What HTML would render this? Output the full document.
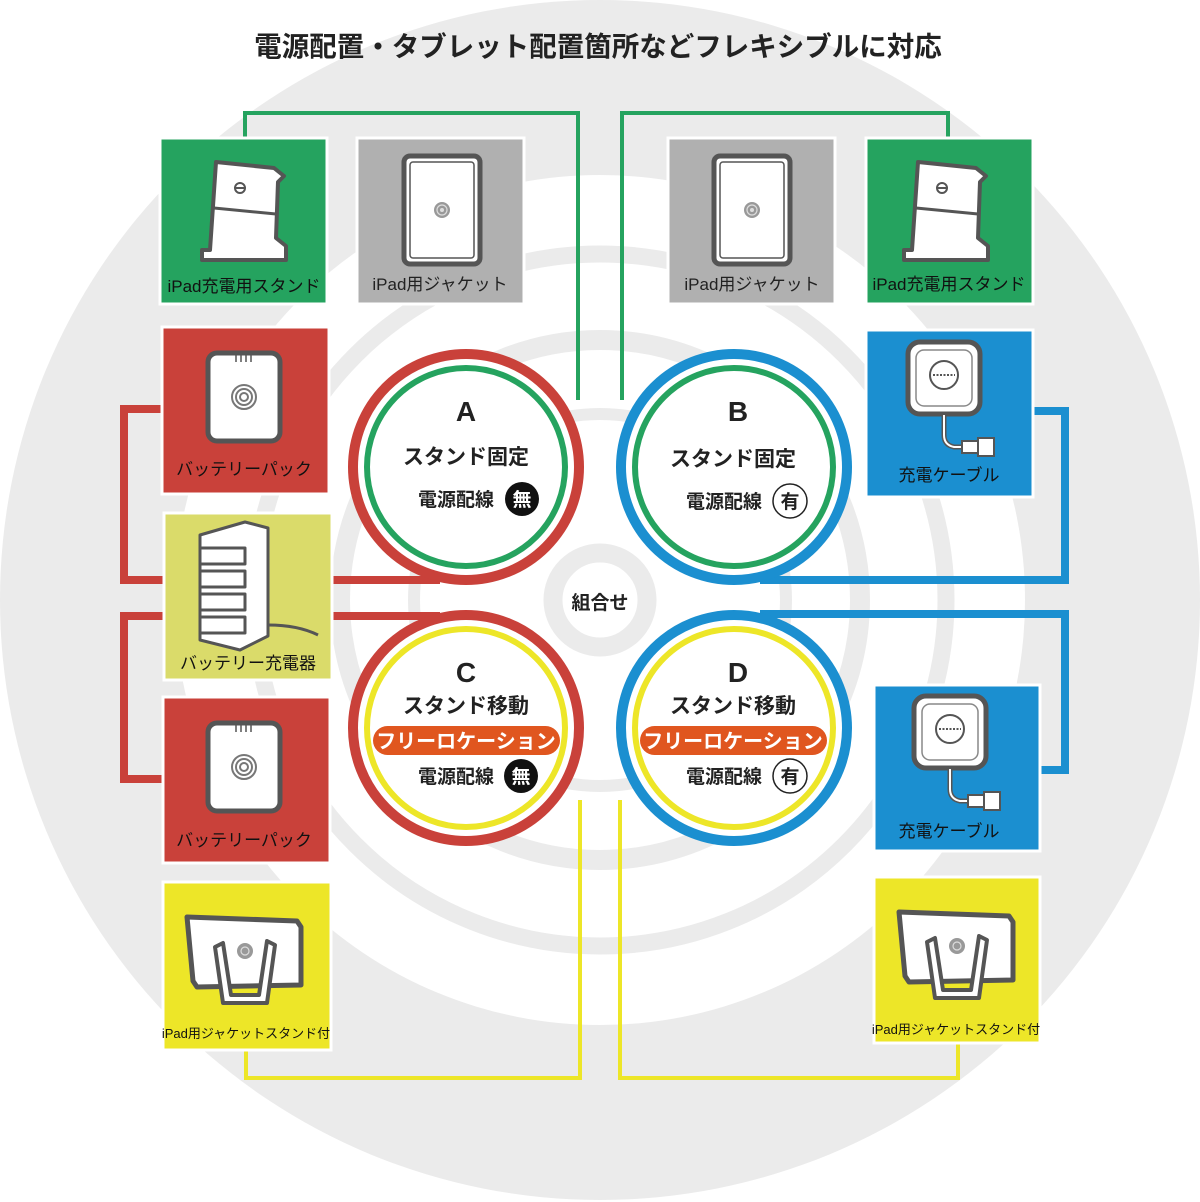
<!DOCTYPE html>
<html><head><meta charset="utf-8"><style>
html,body{margin:0;padding:0;background:#fff}
svg{display:block}
text{font-family:"Liberation Sans","Noto Sans CJK JP",sans-serif}
</style></head><body>
<svg width="1200" height="1202" viewBox="0 0 1200 1202" xmlns="http://www.w3.org/2000/svg">
<defs>
<clipPath id="cp"><rect width="1200" height="1202"/></clipPath>
<g id="stand">
 <path d="M-28,-48 L30,-42 L40,-34 L34,-28 L32,28 L42,36 L42,50 L-42,50 L-42,40 L-34,40 Z" fill="#fff" stroke="#555" stroke-width="4" stroke-linejoin="round"/>
 <path d="M-30,-2 L32,4" stroke="#555" stroke-width="3"/>
 <circle cx="-4" cy="-22" r="5" fill="#fff" stroke="#555" stroke-width="2"/>
 <path d="M-8,-22 h8" stroke="#555" stroke-width="2"/>
</g>
<g id="jacket">
 <rect x="-38" y="-54" width="76" height="108" rx="6" fill="#fff" stroke="#555" stroke-width="5"/>
 <rect x="-32" y="-48" width="64" height="96" rx="3" fill="none" stroke="#555" stroke-width="1.5"/>
 <circle cx="0" cy="0" r="8" fill="#999"/><circle cx="0" cy="0" r="5" fill="none" stroke="#ddd" stroke-width="1.2"/><circle cx="0" cy="0" r="2" fill="#ddd"/>
</g>
<g id="batt">
 <rect x="-36" y="-44" width="72" height="88" rx="9" fill="#fff" stroke="#555" stroke-width="5"/>
 <path d="M-8,-43 v8 M-3,-43 v8 M2,-43 v8 M7,-43 v8" stroke="#555" stroke-width="1.5"/>
 <circle cx="0" cy="0" r="12" fill="#fff" stroke="#777" stroke-width="2"/><circle cx="0" cy="0" r="8" fill="none" stroke="#777" stroke-width="2"/><circle cx="0" cy="0" r="4" fill="none" stroke="#777" stroke-width="2"/>
</g>
<g id="cable">
 <rect x="-36" y="-36" width="72" height="72" rx="12" fill="#fff" stroke="#555" stroke-width="5"/>
 <rect x="-28" y="-28" width="56" height="56" rx="8" fill="none" stroke="#888" stroke-width="1.5"/>
 <circle cx="0" cy="-3" r="14" fill="#fff" stroke="#555" stroke-width="2"/>
 <path d="M-11,-3 h22" stroke="#555" stroke-width="2" stroke-dasharray="2 1.5"/>
 <path d="M0,37 v20 q0,10 10,12 h8" fill="none" stroke="#555" stroke-width="5"/>
 <path d="M0,37 v20 q0,10 10,12 h8" fill="none" stroke="#fff" stroke-width="2"/>
 <rect x="18" y="63" width="16" height="12" fill="#fff" stroke="#555" stroke-width="2"/>
 <rect x="34" y="60" width="16" height="18" fill="#fff" stroke="#555" stroke-width="2"/>
</g>
<g id="tstand">
 <path d="M-58,-38 L52,-34 L56,-28 L56,30 L-48,32 L-52,26 Z" fill="#fff" stroke="#555" stroke-width="5" stroke-linejoin="round"/>
 <path d="M-30,-8 L-22,-12 L-14,40 L14,40 L22,-14 L30,-10 L22,48 L-22,48 Z" fill="#fff" stroke="#555" stroke-width="4" stroke-linejoin="round"/>
 <circle cx="0" cy="-4" r="8" fill="#999"/><circle cx="0" cy="-4" r="4" fill="none" stroke="#ddd" stroke-width="1.2"/>
</g>
</defs>
<g clip-path="url(#cp)">
<circle cx="600" cy="600" r="600" fill="#ebebeb"/>
<circle cx="600" cy="600" r="425" fill="#fff"/>
<circle cx="600" cy="600" r="346" fill="none" stroke="#ebebeb" stroke-width="17"/>
<circle cx="600" cy="600" r="260" fill="none" stroke="#ebebeb" stroke-width="20"/>
<circle cx="600" cy="600" r="186" fill="none" stroke="#ebebeb" stroke-width="12"/>
<circle cx="600" cy="600" r="47" fill="none" stroke="#ebebeb" stroke-width="19"/>
</g>
<text x="598" y="56" text-anchor="middle" font-size="27.5" font-weight="bold" fill="#222">電源配置・タブレット配置箇所などフレキシブルに対応</text>

<g fill="none" stroke-linejoin="miter">
 <path d="M245,140 V113 H578 V400" stroke="#25a35f" stroke-width="4"/>
 <path d="M622,400 V113 H948 V140" stroke="#25a35f" stroke-width="4"/>
 <path d="M165,409 H124 V580 H170 M330,580 H440" stroke="#c9413a" stroke-width="8"/>
 <path d="M170,616 H124 V779 H165 M330,616 H440" stroke="#c9413a" stroke-width="8"/>
 <path d="M1030,411 H1065 V580 H760" stroke="#1b8fd0" stroke-width="8"/>
 <path d="M760,614 H1065 V770 H1038" stroke="#1b8fd0" stroke-width="8"/>
 <path d="M580,800 V1078 H246 V1048" stroke="#ede628" stroke-width="4"/>
 <path d="M620,800 V1078 H958 V1042" stroke="#ede628" stroke-width="4"/>
</g>

<g stroke="#fff" stroke-width="3">
 <rect x="160" y="138" width="167" height="166" fill="#25a35f"/>
 <rect x="357" y="138" width="167" height="166" fill="#b0b0b0"/>
 <rect x="162" y="327" width="167" height="167" fill="#c9413a"/>
 <rect x="164" y="513" width="168" height="167" fill="#dadb6a"/>
 <rect x="163" y="697" width="167" height="166" fill="#c9413a"/>
 <rect x="163" y="882" width="168" height="168" fill="#ede628"/>
 <rect x="668" y="138" width="167" height="166" fill="#b0b0b0"/>
 <rect x="866" y="138" width="167" height="166" fill="#25a35f"/>
 <rect x="866" y="330" width="167" height="167" fill="#1b8fd0"/>
 <rect x="874" y="685" width="166" height="166" fill="#1b8fd0"/>
 <rect x="874" y="877" width="166" height="166" fill="#ede628"/>
</g>
<use href="#stand" x="244" y="210"/>
<use href="#jacket" x="442" y="210"/>
<use href="#jacket" x="752" y="210"/>
<use href="#stand" x="946" y="210"/>
<use href="#batt" x="244" y="397"/>
<use href="#batt" x="244" y="767"/>
<use href="#cable" x="944" y="378"/>
<use href="#cable" x="950" y="732"/>
<use href="#tstand" x="245" y="955"/>
<use href="#tstand" x="957" y="950"/>
<g stroke="#555" stroke-width="3" fill="#fff" stroke-linejoin="round">
 <path d="M200,535 L245,522 L268,528 L268,636 L240,650 L200,640 Z"/>
 <path d="M200,548 h45 v16 h-45 Z M200,571 h45 v16 h-45 Z M200,594 h45 v16 h-45 Z M200,617 h45 v16 h-45 Z"/>
 <path d="M268,625 q30,0 50,10" fill="none"/>
</g>
<g font-size="17" text-anchor="middle">
 <text x="244" y="292" fill="#111">iPad充電用スタンド</text>
 <text x="440" y="290" fill="#222">iPad用ジャケット</text>
 <text x="752" y="290" fill="#222">iPad用ジャケット</text>
 <text x="949" y="290" fill="#111">iPad充電用スタンド</text>
 <text x="244" y="475" fill="#111">バッテリーパック</text>
 <text x="248" y="669" fill="#111">バッテリー充電器</text>
 <text x="244" y="846" fill="#111">バッテリーパック</text>
 <text x="949" y="481" fill="#111">充電ケーブル</text>
 <text x="949" y="837" fill="#111">充電ケーブル</text>
 <text x="246" y="1038" fill="#111" font-size="13">iPad用ジャケットスタンド付</text>
 <text x="956" y="1034" fill="#111" font-size="13">iPad用ジャケットスタンド付</text>
</g>

<g fill="#fff">
 <circle cx="466" cy="467" r="113" stroke="#c9413a" stroke-width="10"/>
 <circle cx="466" cy="467" r="99" stroke="#25a35f" stroke-width="6"/>
 <circle cx="734" cy="467" r="113" stroke="#1b8fd0" stroke-width="10"/>
 <circle cx="734" cy="467" r="99" stroke="#25a35f" stroke-width="6"/>
 <circle cx="466" cy="728" r="113" stroke="#c9413a" stroke-width="10"/>
 <circle cx="466" cy="728" r="99" stroke="#ede628" stroke-width="6"/>
 <circle cx="734" cy="728" r="113" stroke="#1b8fd0" stroke-width="10"/>
 <circle cx="734" cy="728" r="99" stroke="#ede628" stroke-width="6"/>
</g>
<g font-weight="bold" fill="#222" text-anchor="middle">
 <text x="600" y="609" font-size="19">組合せ</text>
 <text x="466" y="421" font-size="28">A</text>
 <text x="466" y="464" font-size="21">スタンド固定</text>
 <text x="456" y="506" font-size="19">電源配線</text>
 <circle cx="522" cy="499" r="17" fill="#111"/><text x="522" y="506" font-size="19" fill="#fff">無</text>
 <text x="738" y="421" font-size="28">B</text>
 <text x="733" y="466" font-size="21">スタンド固定</text>
 <text x="724" y="508" font-size="19">電源配線</text>
 <circle cx="790" cy="501" r="17" fill="#fff" stroke="#222" stroke-width="1.5"/><text x="790" y="508" font-size="19">有</text>
 <text x="466" y="682" font-size="28">C</text>
 <text x="466" y="713" font-size="21">スタンド移動</text>
 <rect x="373" y="726" width="187" height="29" rx="14.5" fill="#e0561f"/>
 <text x="466" y="748" font-size="20" fill="#fff">フリーロケーション</text>
 <text x="456" y="783" font-size="19">電源配線</text>
 <circle cx="521" cy="776" r="17" fill="#111"/><text x="521" y="783" font-size="19" fill="#fff">無</text>
 <text x="738" y="682" font-size="28">D</text>
 <text x="733" y="713" font-size="21">スタンド移動</text>
 <rect x="640" y="726" width="187" height="29" rx="14.5" fill="#e0561f"/>
 <text x="733" y="748" font-size="20" fill="#fff">フリーロケーション</text>
 <text x="724" y="783" font-size="19">電源配線</text>
 <circle cx="790" cy="776" r="17" fill="#fff" stroke="#222" stroke-width="1.5"/><text x="790" y="783" font-size="19">有</text>
</g>
</svg>
</body></html>
